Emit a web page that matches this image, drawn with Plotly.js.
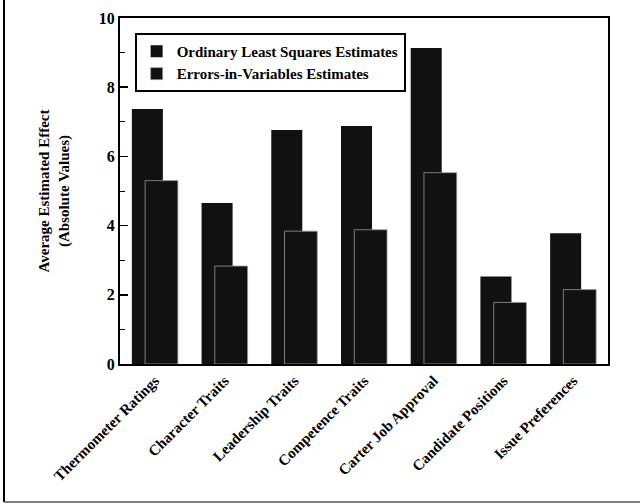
<!DOCTYPE html>
<html>
<head>
<meta charset="utf-8">
<script src="https://cdn.plot.ly/plotly-3.0.1.min.js"></script>
<style>html,body{margin:0;padding:0;background:#fff;}#chart{width:640px;height:504px;}</style>
</head>
<body>
<div id="chart"></div>
<script>
const categories = ["Thermometer Ratings", "Character Traits", "Leadership Traits", "Competence Traits", "Carter Job Approval", "Candidate Positions", "Issue Preferences"];
const olsValues = [7.37, 4.65, 6.76, 6.88, 9.13, 2.53, 3.78];
const eivValues = [5.3, 2.83, 3.84, 3.88, 5.53, 1.78, 2.15];
const seriesNames = ["Ordinary Least Squares Estimates", "Errors-in-Variables Estimates"];

const serif = "'Liberation Serif', 'Times New Roman', serif";
const traces = [
  {
    type: "bar", name: seriesNames[0], x: categories, y: olsValues,
    offset: -0.33, width: 0.445,
    marker: {color: "#111", line: {width: 0}}
  },
  {
    type: "bar", name: seriesNames[1], x: categories, y: eivValues,
    offset: -0.14, width: 0.47,
    marker: {color: "#111", line: {color: "#999", width: 0.8}}
  }
];
const layout = {
  width: 640, height: 504,
  margin: {l: 120, r: 32, t: 18, b: 140},
  paper_bgcolor: "#fff", plot_bgcolor: "#fff",
  barmode: "overlay",
  showlegend: true,
  font: {family: serif, color: "#000"},
  legend: {
    x: 0.03, y: 0.957, xanchor: "left", yanchor: "top",
    bordercolor: "#000", borderwidth: 2, bgcolor: "#fff",
    font: {family: serif, size: 15, weight: "bold"},
    tracegroupgap: 0, itemwidth: 30
  },
  xaxis: {
    type: "category", tickangle: -45,
    showline: true, mirror: true, linecolor: "#000", linewidth: 2,
    ticks: "", showgrid: false, zeroline: false,
    tickfont: {family: serif, size: 15, weight: "bold"}
  },
  yaxis: {
    range: [0, 10], dtick: 2, tick0: 0,
    showline: true, mirror: true, linecolor: "#000", linewidth: 2,
    ticks: "inside", ticklen: 8, tickwidth: 1.5, tickcolor: "#000",
    minor: {dtick: 1, ticks: "inside", ticklen: 5, tickwidth: 1, tickcolor: "#000", showgrid: false},
    showgrid: false, zeroline: false,
    tickfont: {family: serif, size: 16, weight: "bold"},
    title: {text: "Average Estimated Effect<br>(Absolute Values)", standoff: 26,
            font: {family: serif, size: 15, weight: "bold"}}
  },
  shapes: [
    {type: "line", xref: "paper", yref: "paper", x0: -0.2377, x1: -0.2377, y0: -0.399, y1: 1.06,
     line: {color: "#000", width: 2}},
    {type: "line", xref: "paper", yref: "paper", x0: -0.2377, x1: 1.07, y0: -0.399, y1: -0.399,
     line: {color: "#555", width: 1.5}}
  ]
};
Plotly.newPlot("chart", traces, layout, {displayModeBar: false, staticPlot: true});
</script>
</body>
</html>
